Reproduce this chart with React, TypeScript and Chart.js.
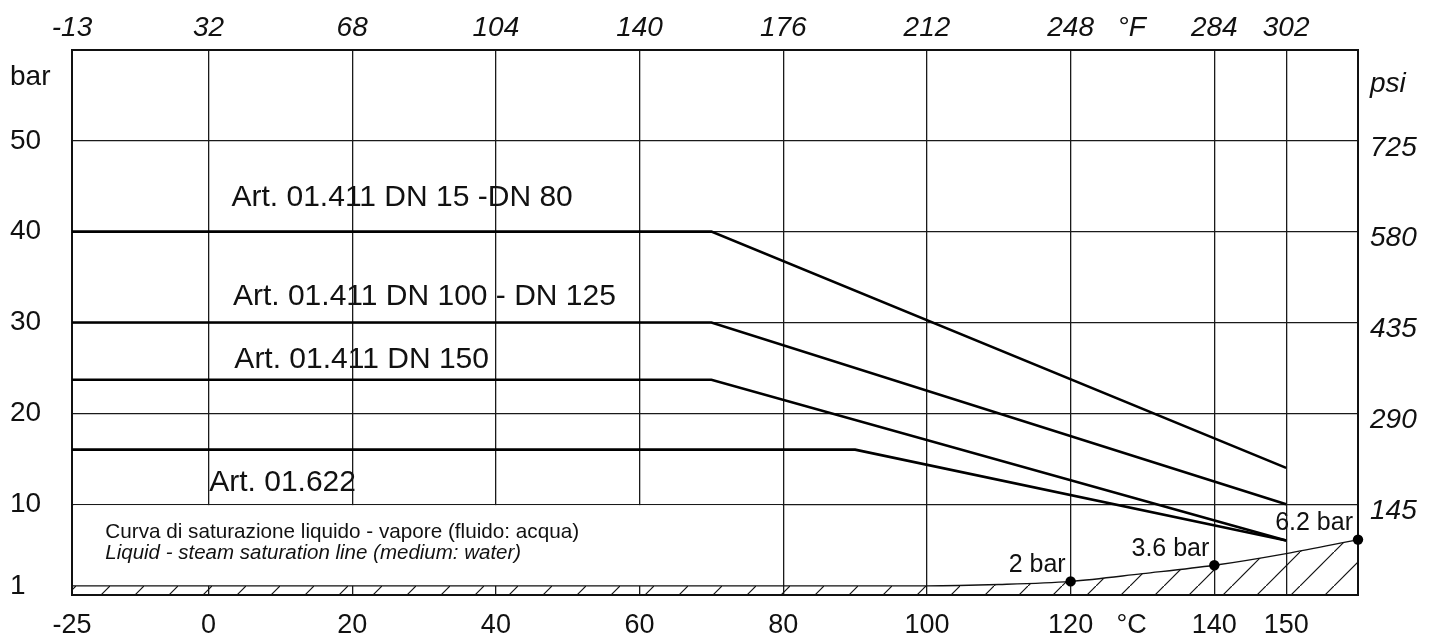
import React, { useEffect, useRef } from 'react';
import { Chart, registerables } from 'chart.js';

Chart.register(...registerables);

const FONT = '"Liberation Sans", Arial, Helvetica, sans-serif';
const INK = '#111111';

// ---- Axes -----------------------------------------------------------------
// Temperature axis (°C); the section from -25 °C to 0 °C is drawn compressed.
const celsiusTicks = [-25, 0, 20, 40, 60, 80, 100, 120, 140, 150];
const fahrenheitLabels = ['-13', '32', '68', '104', '140', '176', '212', '248', '284', '302'];
const tempMinC = -25;
const tempMaxC = 160;
const celsiusUnit = '°C';
const fahrenheitUnit = '°F';
const unitTickC = 128.5;

// Pressure axis (bar) and psi equivalents
const barMin = 0;
const barMax = 60;
const barGridLines = [0, 10, 20, 30, 40, 50, 60];
const barTickValues = [1, 10, 20, 30, 40, 50];
const barTickLabels = ['1', '10', '20', '30', '40', '50'];
const psiTickValues = [10, 20, 30, 40, 50];
const psiTickLabels = ['145', '290', '435', '580', '725'];
const barUnit = 'bar';
const psiUnit = 'psi';
const unitTickBar = 57;

// ---- Series -----------------------------------------------------------------
const seriesNames = [
  'Art. 01.411 DN 15 -DN 80',
  'Art. 01.411 DN 100 - DN 125',
  'Art. 01.411 DN 150',
  'Art. 01.622',
];
const dn15Temps = [-25, 70, 150];
const dn15Bar = [40, 40, 14];
const dn100Temps = [-25, 70, 150];
const dn100Bar = [30, 30, 10];
const dn150Temps = [-25, 70, 150];
const dn150Bar = [23.7, 23.7, 6];
const art622Temps = [-25, 90, 150];
const art622Bar = [16, 16, 6];

// Liquid - steam saturation curve
const satTemps = [-25, 100, 110, 120, 130, 140, 150, 160];
const satBar = [1, 1, 1.15, 1.5, 2.35, 3.27, 4.56, 6.1];
const satMarkedTemps = [120, 140, 160];
const satMarkedLabels = ['2 bar', '3.6 bar', '6.2 bar'];
const satCaptionIt = 'Curva di saturazione liquido - vapore (fluido: acqua)';
const satCaptionEn = 'Liquid - steam saturation line (medium: water)';

// ---- Placement of the text annotations (°C, bar) -----------------------------
const seriesLabelAnchors: [number, number][] = [
  [3.2, 43.7],
  [3.4, 32.8],
  [3.6, 25.9],
  [0.1, 12.35],
];
const captionAnchorC = -18.9;
const captionBarLines = [6.9, 4.6];
const captionBox = { fromC: -25, toC: 80, fromBar: 1, toBar: 10 };

// compressed negative section: -25 °C occupies the width of -19 units
const NEG = 19 / 25;
const pos = (t: number) => (t < 0 ? t * NEG : t);
const unpos = (p: number) => (p < 0 ? p / NEG : p);
const near = (a: number, b: number) => Math.abs(a - b) < 1e-6;

function makeHatch(): CanvasPattern | string {
  const c = document.createElement('canvas');
  c.width = 34;
  c.height = 34;
  const g = c.getContext('2d');
  if (!g) return 'rgba(0,0,0,0)';
  g.strokeStyle = INK;
  g.lineWidth = 1.2;
  g.beginPath();
  g.moveTo(-3, 37);
  g.lineTo(37, -3);
  g.stroke();
  return g.createPattern(c, 'repeat') || 'rgba(0,0,0,0)';
}

const lineSet = (temps: number[], bars: number[]) => ({
  type: 'line' as const,
  data: temps.map((t, i) => ({ x: pos(t), y: bars[i] })),
  borderColor: '#000',
  borderWidth: 2.6,
  pointRadius: 0,
  fill: false,
  tension: 0,
  xAxisID: 'x',
  yAxisID: 'y',
});

const boxPlugin = {
  id: 'captionBox',
  beforeDatasetsDraw(chart: any) {
    const { ctx, chartArea, scales } = chart;
    const x0 = Math.max(scales.x.getPixelForValue(pos(captionBox.fromC)), chartArea.left) + 1.5;
    const x1 = scales.x.getPixelForValue(pos(captionBox.toC)) - 1;
    const y0 = scales.y.getPixelForValue(captionBox.toBar) + 1;
    const y1 = scales.y.getPixelForValue(captionBox.fromBar);
    ctx.save();
    ctx.fillStyle = '#ffffff';
    ctx.fillRect(x0, y0, x1 - x0, y1 - y0);
    ctx.restore();
  },
};

const textPlugin = {
  id: 'annotations',
  afterDatasetsDraw(chart: any) {
    const { ctx, scales } = chart;
    const X = (c: number) => scales.x.getPixelForValue(pos(c));
    const Y = (b: number) => scales.y.getPixelForValue(b);
    ctx.save();
    ctx.fillStyle = INK;
    ctx.textBaseline = 'middle';
    ctx.textAlign = 'left';
    ctx.font = `30px ${FONT}`;
    seriesNames.forEach((name, i) => {
      const [c, b] = seriesLabelAnchors[i];
      ctx.fillText(name, X(c), Y(b));
    });
    ctx.font = `20.7px ${FONT}`;
    ctx.fillText(satCaptionIt, X(captionAnchorC), Y(captionBarLines[0]));
    ctx.font = `italic 20.5px ${FONT}`;
    ctx.fillText(satCaptionEn, X(captionAnchorC), Y(captionBarLines[1]));
    ctx.font = `25px ${FONT}`;
    ctx.textAlign = 'right';
    satMarkedTemps.forEach((t, i) => {
      const b = satBar[satTemps.indexOf(t)];
      ctx.fillText(satMarkedLabels[i], X(t) - 5, Y(b) - 16);
    });
    ctx.restore();
  },
};

export default function App() {
  const ref = useRef<HTMLCanvasElement>(null);

  useEffect(() => {
    if (!ref.current) return;
    const hatch = makeHatch();

    const xTickValues = [...celsiusTicks.map(pos), unitTickC, tempMaxC].sort((a, b) => a - b);
    const yTickValues = [...new Set([...barGridLines, ...barTickValues, unitTickBar])].sort((a, b) => a - b);
    const y2TickValues = [...psiTickValues, unitTickBar];

    const chart = new Chart(ref.current, {
      type: 'line',
      data: {
        datasets: [
          lineSet(dn15Temps, dn15Bar),
          lineSet(dn100Temps, dn100Bar),
          lineSet(dn150Temps, dn150Bar),
          lineSet(art622Temps, art622Bar),
          {
            type: 'line',
            data: satTemps.map((t, i) => ({ x: pos(t), y: satBar[i] })),
            borderColor: INK,
            borderWidth: 1.4,
            backgroundColor: hatch as any,
            fill: 'origin',
            cubicInterpolationMode: 'monotone',
            pointRadius: (c: any) => (satMarkedTemps.includes(satTemps[c.dataIndex]) ? 5.2 : 0),
            pointBackgroundColor: '#000',
            pointBorderColor: '#000',
            pointBorderWidth: 0,
            clip: false as any,
            xAxisID: 'x',
            yAxisID: 'y',
          } as any,
        ],
      },
      options: {
        animation: false,
        responsive: true,
        maintainAspectRatio: false,
        events: [],
        layout: { padding: { left: 2, top: 0, right: 0, bottom: 0 } },
        plugins: { legend: { display: false }, tooltip: { enabled: false } },
        scales: {
          x: {
            type: 'linear',
            position: 'bottom',
            min: pos(tempMinC),
            max: tempMaxC,
            afterBuildTicks: (s: any) => {
              s.ticks = xTickValues.map((v) => ({ value: v }));
            },
            afterFit: (s: any) => {
              s.height = 45;
            },
            ticks: {
              autoSkip: false,
              maxRotation: 0,
              padding: 14,
              color: INK,
              font: { family: FONT, size: 27 },
              callback: (v: any) => {
                const n = Number(v);
                if (near(n, unitTickC)) return celsiusUnit;
                if (near(n, tempMaxC)) return '';
                return String(Math.round(unpos(n)));
              },
            },
            grid: {
              drawTicks: false,
              lineWidth: 1.3,
              color: (c: any) =>
                c.tick && celsiusTicks.some((t) => near(pos(t), c.tick.value)) ? '#1a1a1a' : 'rgba(0,0,0,0)',
            },
            border: { display: true, color: INK, width: 2 },
          },
          x2: {
            type: 'linear',
            position: 'top',
            min: pos(tempMinC),
            max: tempMaxC,
            afterBuildTicks: (s: any) => {
              s.ticks = xTickValues.filter((v) => !near(v, tempMaxC)).map((v) => ({ value: v }));
            },
            afterFit: (s: any) => {
              s.height = 42;
            },
            ticks: {
              autoSkip: false,
              maxRotation: 0,
              padding: 5,
              color: INK,
              font: { family: FONT, size: 28, style: 'italic' },
              callback: (v: any) => {
                const n = Number(v);
                if (near(n, unitTickC)) return fahrenheitUnit;
                const i = celsiusTicks.findIndex((t) => near(pos(t), n));
                return i >= 0 ? fahrenheitLabels[i] : '';
              },
            },
            grid: { display: false, drawTicks: false },
            border: { display: true, color: INK, width: 2 },
          },
          y: {
            type: 'linear',
            position: 'left',
            min: barMin,
            max: barMax,
            afterBuildTicks: (s: any) => {
              s.ticks = yTickValues.map((v) => ({ value: v }));
            },
            afterFit: (s: any) => {
              s.width = 62;
            },
            ticks: {
              autoSkip: false,
              crossAlign: 'far',
              padding: 4,
              color: INK,
              font: { family: FONT, size: 28 },
              callback: (v: any) => {
                const n = Number(v);
                if (near(n, unitTickBar)) return barUnit;
                const i = barTickValues.findIndex((b) => near(b, n));
                return i >= 0 ? barTickLabels[i] : '';
              },
            },
            grid: {
              drawTicks: false,
              lineWidth: 1.3,
              color: (c: any) =>
                c.tick && barGridLines.some((b) => near(b, c.tick.value)) ? '#1a1a1a' : 'rgba(0,0,0,0)',
            },
            border: { display: true, color: INK, width: 2 },
          },
          y2: {
            type: 'linear',
            position: 'right',
            min: barMin,
            max: barMax,
            afterBuildTicks: (s: any) => {
              s.ticks = y2TickValues.map((v) => ({ value: v }));
            },
            afterFit: (s: any) => {
              s.width = 75;
            },
            ticks: {
              autoSkip: false,
              padding: 12,
              labelOffset: 7,
              color: INK,
              font: { family: FONT, size: 28, style: 'italic' },
              callback: (v: any) => {
                const n = Number(v);
                if (near(n, unitTickBar)) return psiUnit;
                const i = psiTickValues.findIndex((b) => near(b, n));
                return i >= 0 ? psiTickLabels[i] : '';
              },
            },
            grid: { display: false, drawTicks: false },
            border: { display: true, color: INK, width: 2 },
          },
        },
      } as any,
      plugins: [boxPlugin, textPlugin],
    });

    return () => chart.destroy();
  }, []);

  return (
    <div style={{ width: '1425px', height: '632px', position: 'relative', background: '#fff' }}>
      <canvas ref={ref} />
    </div>
  );
}
